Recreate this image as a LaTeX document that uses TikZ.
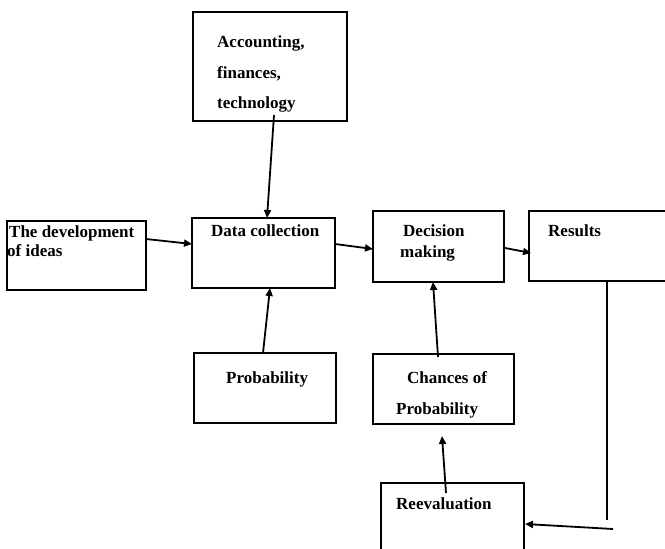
\documentclass[tikz,border=0pt]{standalone}
\usepackage{fontspec}
\setmainfont{Liberation Serif}
\usetikzlibrary{arrows.meta}
\begin{document}
\begin{tikzpicture}[x=1pt,y=-1pt,
  box/.style={draw=black,line width=2.2pt,rectangle,inner sep=0pt,outer sep=0pt},
  lbl/.style={anchor=base west,inner sep=0pt,font=\fontsize{17}{20}\selectfont\bfseries},
  conn/.style={line width=1.8pt,-{Triangle[length=8pt,width=7pt]}},
  thin/.style={line width=1.1pt}]
\useasboundingbox (0,0) rectangle (665,549);
\clip (0,0) rectangle (665,549);
% boxes
\node[box,minimum width=154pt,minimum height=109pt] (acc) at (270,66.5) {};
\node[box,minimum width=139pt,minimum height=69pt] (dev) at (76.5,255.5) {};
\node[box,minimum width=143pt,minimum height=70pt] (data) at (263.5,253) {};
\node[box,minimum width=131pt,minimum height=71pt] (dec) at (438.5,246.5) {};
\node[box,minimum width=171pt,minimum height=70pt] (res) at (614.5,246) {};
\node[box,minimum width=142pt,minimum height=70pt] (prob) at (265,388) {};
\node[box,minimum width=141pt,minimum height=70pt] (chance) at (443.5,389) {};
\node[box,minimum width=143pt,minimum height=97pt] (reev) at (452.5,531.5) {};
% texts
\node[lbl] (t1) at (217,47) {Accounting,};
\node[lbl] (t2) at (217,78) {finances,};
\node[lbl] (t3) at (217,108) {technology};
\node[lbl] (t4) at (9,237) {The development};
\node[lbl] (t5) at (7,256) {of ideas};
\node[lbl] (t6) at (211,236) {Data collection};
\node[lbl] (t7) at (403,236) {Decision};
\node[lbl] (t8) at (400,257) {making};
\node[lbl] (t9) at (548,236) {Results};
\node[lbl] (t10) at (226,383) {Probability};
\node[lbl] (t11) at (407,383) {Chances of};
\node[lbl] (t12) at (396,414) {Probability};
\node[lbl] (t13) at (396,509) {Reevaluation};
% connector end points
\coordinate (a1) at (274,115);
\coordinate (a2) at (267,218);
\coordinate (b1) at (146,239);
\coordinate (b2) at (192,244);
\coordinate (c1) at (335,244);
\coordinate (c2) at (373,249);
\coordinate (d1) at (505,248);
\coordinate (d2) at (531,253);
\coordinate (e1) at (263,353);
\coordinate (e2) at (270,288);
\coordinate (f1) at (438,357);
\coordinate (f2) at (433,282);
\coordinate (g1) at (446,493);
\coordinate (g2) at (442,436);
\coordinate (h1) at (607,281);
\coordinate (h2) at (607,520);
\coordinate (k1) at (613,529);
\coordinate (k2) at (525,524);
% connectors
\draw[conn] (a1) -- (a2);
\draw[conn] (b1) -- (b2);
\draw[conn] (c1) -- (c2);
\draw[conn] (d1) -- (d2);
\draw[conn] (e1) -- (e2);
\draw[conn] (f1) -- (f2);
\draw[conn] (g1) -- (g2);
\draw[thin] (h1) -- (h2);
\draw[conn] (k1) -- (k2);
\end{tikzpicture}
\end{document}
